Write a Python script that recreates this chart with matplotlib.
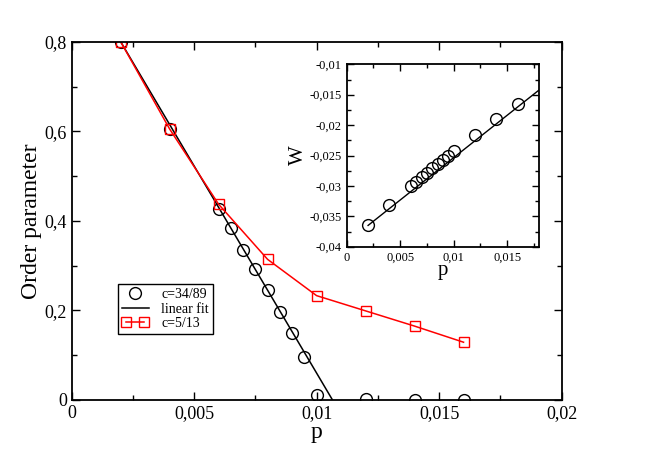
import numpy as np
import matplotlib
matplotlib.use("Agg")
import matplotlib.pyplot as plt
from matplotlib.ticker import MultipleLocator, FuncFormatter
from matplotlib.legend_handler import HandlerLine2D

plt.rcParams['font.family'] = ['Liberation Serif', 'DejaVu Serif']

# c = 34/89 order parameter
p_a = [0.002, 0.004, 0.006, 0.0065, 0.007, 0.0075, 0.008, 0.0085, 0.009, 0.0095, 0.010, 0.012, 0.014, 0.016]
op_a = [0.800, 0.605, 0.427, 0.383, 0.336, 0.292, 0.246, 0.196, 0.149, 0.095, 0.011, 0.002, 0.001, 0.001]

# linear fit for c = 34/89
fit_p = [0.002, 0.01065]
fit_op = [0.800, 0.0]

# c = 5/13 order parameter
p_b = [0.002, 0.004, 0.006, 0.008, 0.010, 0.012, 0.014, 0.016]
op_b = [0.800, 0.605, 0.437, 0.314, 0.233, 0.199, 0.165, 0.129]

# inset: W vs p
p_w = [0.002, 0.004, 0.006, 0.0065, 0.007, 0.0075, 0.008, 0.0085, 0.009, 0.0095, 0.010, 0.012, 0.014, 0.016]
w = [-0.0365, -0.0331, -0.0300, -0.0293, -0.0286, -0.0278, -0.0271, -0.0264, -0.0257, -0.0250, -0.0243, -0.0216, -0.0190, -0.0165]
wfit_p = [0.002, 0.018]
wfit_w = [-0.0365, -0.0142]


def comma(v, pos):
    if abs(v) < 1e-12:
        return '0'
    s = ('%.4f' % v).rstrip('0').rstrip('.')
    return s.replace('.', ',')


def style_ticks(ax, size, major_len, minor_len):
    ax.tick_params(which='both', direction='in', top=True, right=True, width=1.0)
    ax.tick_params(which='major', length=major_len, labelsize=size)
    ax.tick_params(which='minor', length=minor_len)
    ax.xaxis.set_major_formatter(FuncFormatter(comma))
    ax.yaxis.set_major_formatter(FuncFormatter(comma))
    for s in ax.spines.values():
        s.set_linewidth(1.3)


fig = plt.figure(figsize=(6.54, 4.62), dpi=100)
ax = fig.add_axes([0.1096, 0.1342, 0.749, 0.7755])

ax.plot(p_a, op_a, linestyle='none', marker='o', ms=8.5, mfc='none', mec='black', mew=1.0, label='c=34/89')
ax.plot(fit_p, fit_op, color='black', lw=1.1, label='linear fit')
red, = ax.plot(p_b, op_b, color='red', lw=1.1, marker='s', ms=7.5, mfc='none', mec='red', mew=1.0, label='c=5/13')

ax.set_xlim(0, 0.02)
ax.set_ylim(0, 0.8)
ax.xaxis.set_major_locator(MultipleLocator(0.005))
ax.xaxis.set_minor_locator(MultipleLocator(0.0025))
ax.yaxis.set_major_locator(MultipleLocator(0.2))
ax.yaxis.set_minor_locator(MultipleLocator(0.1))
style_ticks(ax, 13, 6, 3.5)
ax.set_xlabel('p', fontsize=17, labelpad=0)
ax.set_ylabel('Order parameter', fontsize=17, labelpad=2)

leg = ax.legend(loc='upper left', bbox_to_anchor=(0.0945, 0.3237), borderaxespad=0,
                fontsize=10, fancybox=False, framealpha=1, edgecolor='black',
                handlelength=1.9, handletextpad=0.9, borderpad=0.3, labelspacing=0.1,
                numpoints=1, handler_map={red: HandlerLine2D(numpoints=2)})
leg.get_frame().set_linewidth(1.0)

# inset
ins = fig.add_axes([0.5301, 0.466, 0.2945, 0.3948])
ins.plot(wfit_p, wfit_w, color='black', lw=1.0)
ins.plot(p_w, w, linestyle='none', marker='o', ms=8.5, mfc='none', mec='black', mew=1.0)
ins.set_xlim(0, 0.018)
ins.set_ylim(-0.04, -0.01)
ins.xaxis.set_major_locator(MultipleLocator(0.005))
ins.xaxis.set_minor_locator(MultipleLocator(0.0025))
ins.yaxis.set_major_locator(MultipleLocator(0.005))
ins.yaxis.set_minor_locator(MultipleLocator(0.0025))
style_ticks(ins, 9, 5, 3)
ins.set_xlabel('p', fontsize=15, labelpad=-2)
ins.set_ylabel('W', fontsize=15, labelpad=1)

fig.savefig('out.png', dpi=100)
